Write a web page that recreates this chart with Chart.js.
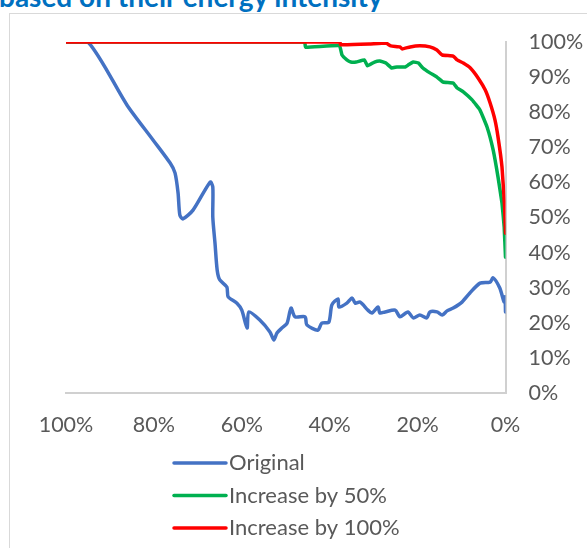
<!DOCTYPE html>
<html>
<head>
<meta charset="utf-8">
<script src="https://cdn.jsdelivr.net/npm/chart.js@4.4.1/dist/chart.umd.min.js"></script>
<style>
  html, body { margin: 0; padding: 0; background: #fff; }
  #wrap { position: relative; width: 587px; height: 548px; overflow: hidden; background: #fff; }
  #frame { position: absolute; left: 9px; top: 13px; width: 700px; height: 600px; border: 1px solid #d9d9d9; box-sizing: border-box; }
  #title { position: absolute; left: -1px; top: -18px; font: bold 28px Lato, sans-serif; line-height: 28px; color: #0070c0; white-space: nowrap; }
  #chart { position: absolute; left: 0; top: 0; }
</style>
</head>
<body>
<div id="wrap">
  <div id="frame"></div>
  <div id="title">based on their energy intensity</div>
  <canvas id="chart" width="587" height="548"></canvas>
</div>
<script>
// Share of items (x, %) against cumulative share (y, %), three scenarios
const seriesNames = ['Original', 'Increase by 50%', 'Increase by 100%'];
const seriesColors = ['#4472c4', '#00b050', '#ff0000'];

const originalX = [100, 95.0, 86.1, 80.2, 76.3, 75.2, 74.5, 74.1, 73.4, 71.1, 67.2, 66.6, 66.6, 66.1, 65.6, 65.0, 63.4, 63.1, 61.1, 60.0,
  58.8, 58.4, 55.9, 53.6, 52.7, 52.0, 50.9, 49.7, 48.8, 47.9, 45.6, 45.2, 42.7, 41.8, 40.2, 39.5, 38.1, 37.9, 36.1, 34.9,
  34.2, 33.1, 31.3, 30.4, 29.0, 28.6, 27.4, 25.1, 24.0, 22.2, 21.0, 19.5, 17.9, 17.2, 15.6, 14.4, 13.3, 11.9, 9.9, 8.1,
  5.8, 3.5, 2.8, 1.3, 0.3, 0.1, 0];
const originalY = [100, 100, 82.0, 72.1, 65.5, 62.7, 57.0, 50.7, 49.6, 52.1, 60.1, 58.7, 50.1, 42.7, 35.0, 32.2, 30.2, 27.4, 25.6, 23.6,
  18.5, 23.1, 20.8, 17.4, 15.1, 17.1, 18.5, 19.9, 24.2, 21.7, 21.7, 19.4, 17.9, 19.9, 20.2, 25.1, 26.8, 24.5, 25.6, 27.1,
  25.6, 25.9, 23.6, 22.8, 24.5, 22.8, 23.1, 23.6, 21.7, 23.1, 21.4, 22.2, 21.4, 23.1, 23.1, 22.2, 23.4, 24.2, 25.9, 28.5,
  31.3, 31.6, 32.8, 29.9, 25.9, 27.4, 23.1];

const plus50X = [100, 45.7, 45.5, 37.8, 37.2, 36.1, 35.2, 34.0, 32.1, 31.4, 29.8, 28.6, 27.2, 25.9, 24.7, 22.8, 22.2, 21.0, 19.8, 18.8,
  17.2, 15.6, 14.2, 11.9, 11.0, 9.6, 7.6, 5.8, 4.2, 2.8, 1.7, 0.8, 0.3, 0];
const plus50Y = [100, 100, 98.5, 99.0, 96.3, 94.9, 94.3, 94.3, 94.9, 93.2, 94.3, 94.6, 94.0, 92.6, 92.9, 92.9, 93.4, 94.3, 94.0, 92.6,
  91.2, 90.0, 88.6, 88.3, 86.9, 85.8, 83.5, 80.6, 75.8, 69.2, 61.5, 54.1, 47.3, 38.7];

const plus100X = [100, 37.7, 37.5, 31.0, 27.2, 26.1, 24.0, 23.5, 21.7, 19.5, 17.2, 15.6, 14.4, 11.9, 11.0, 9.6, 8.0, 6.2, 4.6, 3.5,
  2.4, 1.7, 0.8, 0.2, 0];
const plus100Y = [100, 100, 99.2, 99.4, 99.7, 98.9, 98.6, 98.0, 98.6, 98.9, 98.6, 97.7, 96.3, 96.0, 94.9, 94.0, 92.6, 89.7, 86.3, 82.6,
  77.8, 72.9, 64.4, 53.0, 45.5];

const xTicks = [100, 80, 60, 40, 20, 0];
const yTicks = [100, 90, 80, 70, 60, 50, 40, 30, 20, 10, 0];

const toPoints = (xs, ys) => xs.map((x, i) => ({ x: x, y: ys[i] }));

const labelFont = { family: 'Lato', size: 21.5 };
const labelColor = '#595959';
const axisColor = '#d0d0d0';

// Legend drawn as a vertical list below the axis
const listLegend = {
  id: 'listLegend',
  afterDraw(chart) {
    const ctx = chart.ctx;
    ctx.save();
    chart.data.datasets.forEach((ds, i) => {
      const y = 463 + i * 32.5;
      ctx.strokeStyle = ds.borderColor;
      ctx.lineWidth = 3.5;
      ctx.lineCap = 'round';
      ctx.beginPath();
      ctx.moveTo(174, y);
      ctx.lineTo(226, y);
      ctx.stroke();
      ctx.fillStyle = labelColor;
      ctx.font = '22px Lato';
      ctx.textAlign = 'left';
      ctx.textBaseline = 'middle';
      ctx.fillText(ds.label, 229, y);
    });
    ctx.restore();
  }
};

const line = (i, xs, ys, order, tension) => ({
  label: seriesNames[i],
  data: toPoints(xs, ys),
  borderColor: seriesColors[i],
  backgroundColor: seriesColors[i],
  borderWidth: 3.5,
  borderJoinStyle: 'round',
  borderCapStyle: 'round',
  pointRadius: 0,
  tension: tension,
  order: order
});

new Chart(document.getElementById('chart'), {
  type: 'line',
  data: {
    datasets: [
      line(0, originalX, originalY, 3, 0.25),
      line(1, plus50X, plus50Y, 2, 0.1),
      line(2, plus100X, plus100Y, 1, 0.1)
    ]
  },
  options: {
    responsive: false,
    animation: false,
    devicePixelRatio: 1,
    layout: { padding: { top: 42, left: 66, right: 0, bottom: 111 } },
    plugins: { legend: { display: false }, tooltip: { enabled: false } },
    scales: {
      x: {
        type: 'linear',
        min: 0,
        max: 100,
        reverse: true,
        afterBuildTicks(axis) { axis.ticks = xTicks.map(v => ({ value: v })); },
        afterFit(axis) { axis.height = 44; },
        ticks: { font: labelFont, color: labelColor, padding: 19, maxRotation: 0, callback: v => v + '%' },
        grid: { display: false, drawTicks: false },
        border: { display: true, color: axisColor, width: 2 }
      },
      y: {
        type: 'linear',
        position: 'right',
        min: 0,
        max: 100,
        afterBuildTicks(axis) { axis.ticks = yTicks.map(v => ({ value: v })); },
        afterFit(axis) { axis.width = 81.5; },
        ticks: { font: labelFont, color: labelColor, padding: 23, callback: v => v + '%' },
        grid: { display: false, drawTicks: false },
        border: { display: true, color: axisColor, width: 2 }
      }
    }
  },
  plugins: [listLegend]
});
</script>
</body>
</html>
